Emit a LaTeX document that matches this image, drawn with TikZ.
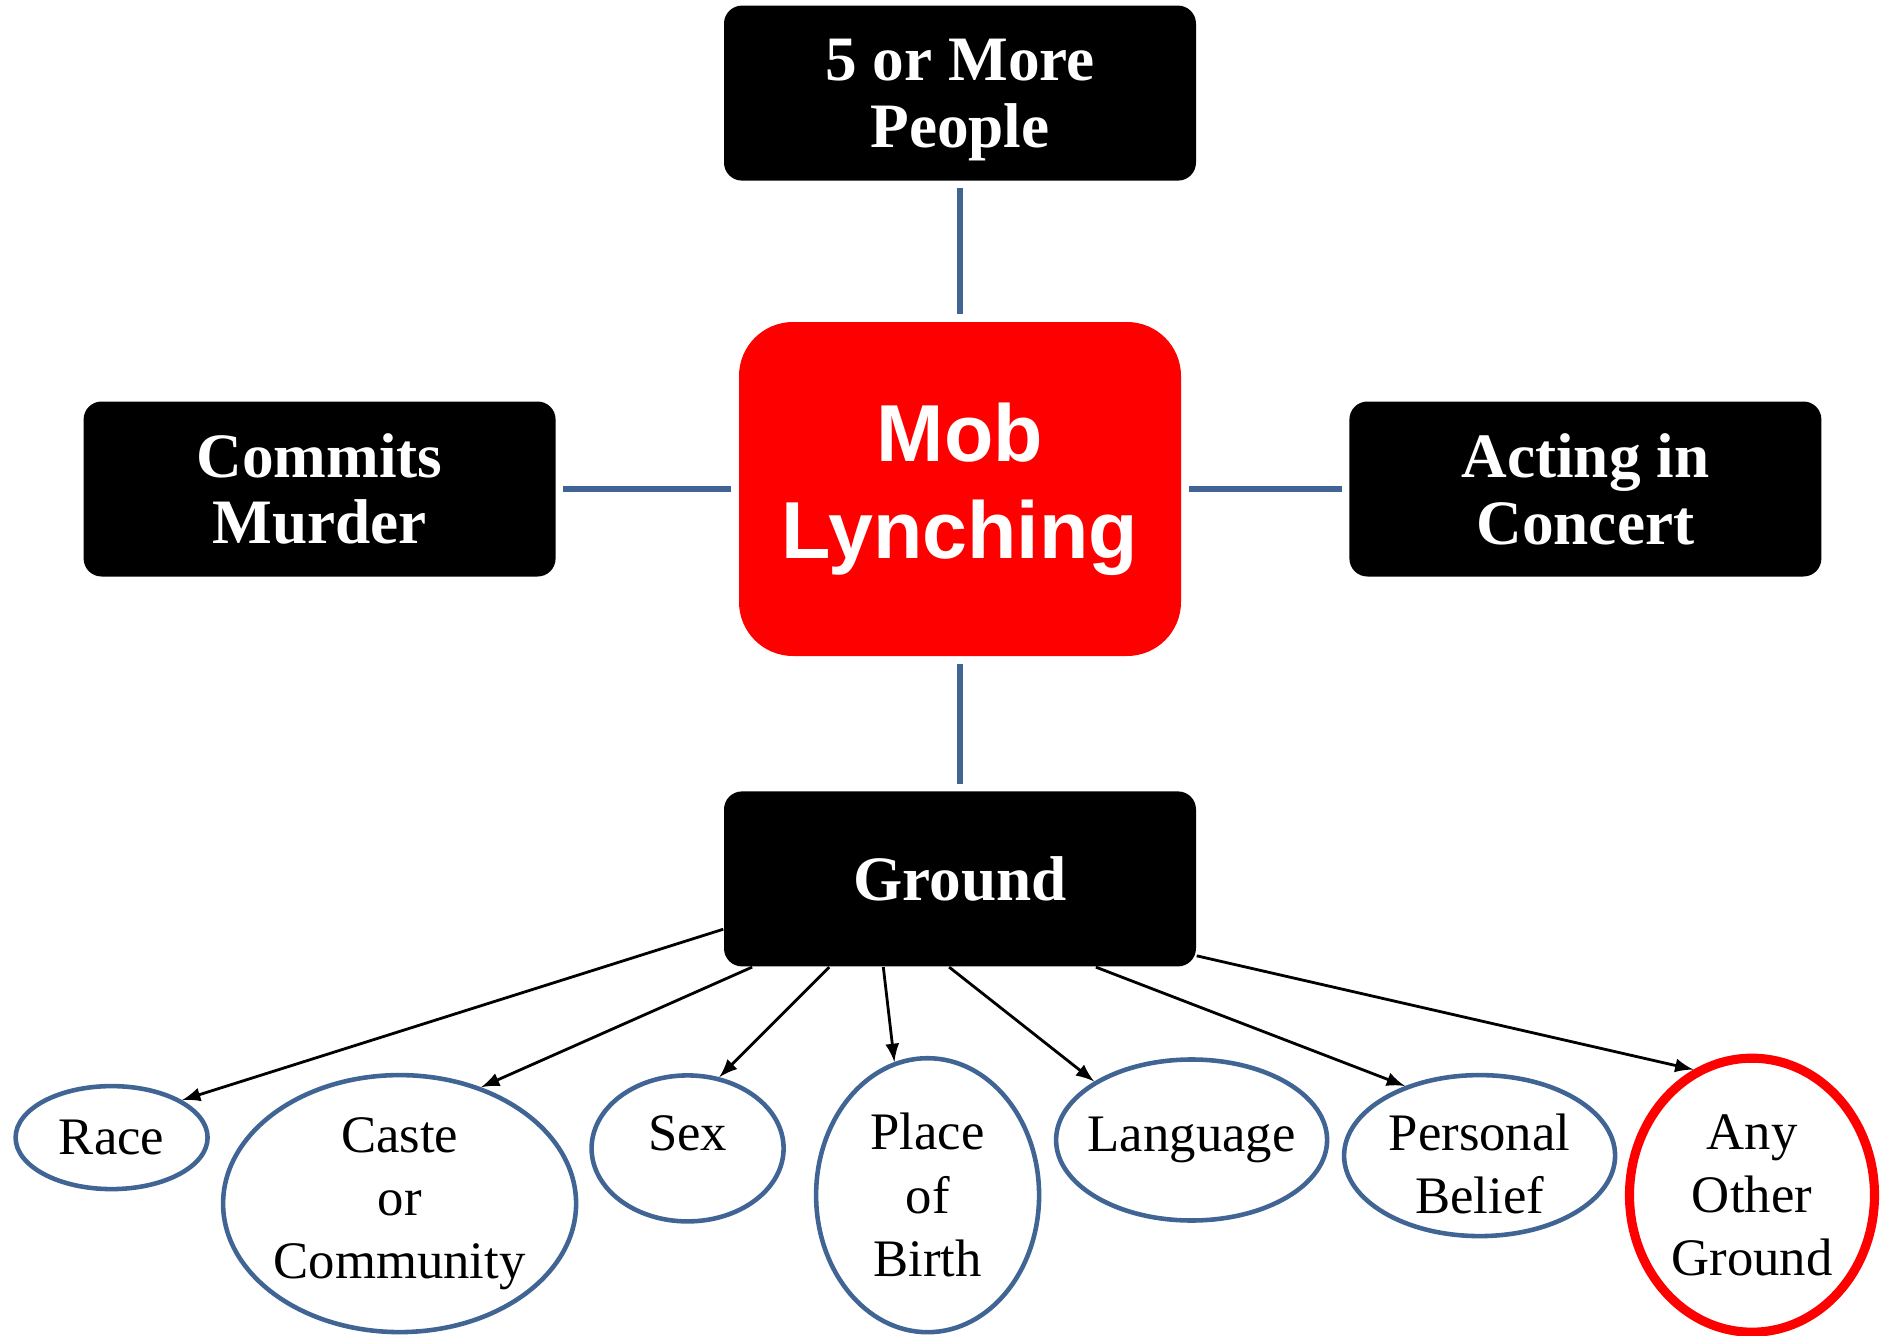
\documentclass[tikz,border=0pt]{standalone}
\usepackage{fontspec}
\setmainfont{Liberation Serif}
\setsansfont{Liberation Sans}
\usetikzlibrary{arrows}
\usetikzlibrary{positioning,shapes.geometric}
\definecolor{lineblue}{RGB}{64,100,148}
\tikzset{
  blackbox/.style={fill=black, rounded corners=0.18cm, text=white, align=center,
    minimum width=4.72cm, minimum height=1.75cm, inner sep=0pt,
    font=\fontsize{18}{19}\selectfont\bfseries},
  reason/.style={ellipse, draw=lineblue, line width=1.3pt, inner sep=-1cm, align=center,
    font=\fontsize{15}{18}\selectfont},
  link/.style={draw=lineblue, line width=1.6pt, shorten <=2pt, shorten >=2pt},
}

\begin{document}
\begin{tikzpicture}
\useasboundingbox (0,0) rectangle (18.81,13.35);
% centre
\node[fill=red, rounded corners=0.54cm, minimum width=4.42cm, minimum height=3.34cm, text=white, align=center, font=\fontsize{23}{27.5}\selectfont\sffamily\bfseries] (mob) at (9.60,8.46) {Mob\\Lynching};
\node[blackbox, above=1.4cm of mob] (people) {\rule{0pt}{0.55cm}5 or More\\People};
\node[blackbox, left=1.82cm of mob] (murder) {Commits\\Murder};
\node[blackbox, right=1.67cm of mob] (concert) {Acting in\\Concert};
\node[blackbox, below=1.34cm of mob] (ground) {Ground};
\draw[link] (people) -- (mob);
\draw[link] (murder) -- (mob);
\draw[link] (concert) -- (mob);
\draw[link] (ground) -- (mob);
% grounds
\node[reason, minimum width=1.92cm, minimum height=1.03cm] (race) at (1.116,1.974) {Race};
\node[reason, minimum width=3.53cm, minimum height=2.57cm] (caste) at (3.996,1.314) {Caste\\or\\Community};
\node[reason, minimum width=1.92cm, minimum height=1.46cm, text depth=0.31cm] (sex) at (6.876,1.866) {Sex};
\node[reason, minimum width=2.23cm, minimum height=2.74cm] (birth) at (9.276,1.398) {Place\\of\\Birth};
\node[reason, minimum width=2.71cm, minimum height=1.61cm] (language) at (11.916,1.95) {Language};
\node[reason, minimum width=2.71cm, minimum height=1.61cm] (belief) at (14.796,1.794) {\rule{0pt}{0.53cm}Personal\\Belief};
\node[reason, draw=red, line width=2.6pt, minimum width=2.45cm, minimum height=2.74cm] (other) at (17.52,1.398) {Any\\Other\\Ground};
\draw[thick, -latex] (ground.192) -- (race.28);
\draw[thick, -latex] (ground.203) -- (caste.55);
\draw[thick, -latex] (ground.214) -- (sex.66);
\draw[thick, -latex] (ground.229) -- (birth.104);
\draw[thick, -latex] (ground.263) -- (language.149);
\draw[thick, -latex] (ground.327) -- (belief.137);
\draw[thick, -latex] (ground.342) -- (other.115);
\end{tikzpicture}
\end{document}
